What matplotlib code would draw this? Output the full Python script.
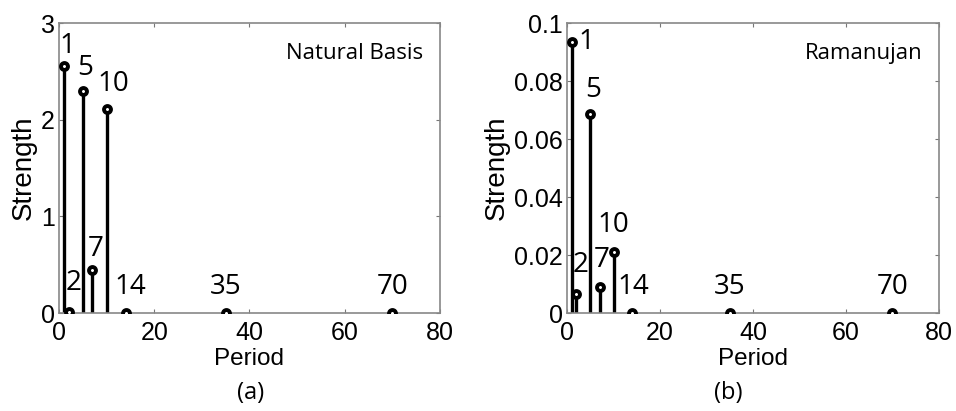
import numpy as np
import matplotlib.pyplot as plt

periods = [1, 2, 5, 7, 10, 14, 35, 70]
natural_strength = [2.56, 0.01, 2.30, 0.44, 2.11, 0.0, 0.0, 0.0]
ramanujan_strength = [0.0935, 0.0065, 0.0685, 0.009, 0.021, 0.0, 0.0, 0.0]

tick_font = 'Liberation Sans'
label_font = 'Open Sans'

fig = plt.figure(figsize=(9.56, 4.11), dpi=100)
ax_a = fig.add_axes([0.0617, 0.2384, 0.3985, 0.7056])
ax_b = fig.add_axes([0.5931, 0.2384, 0.3891, 0.7056])


def dessiner(ax, y, ymax, yticks, ytick_labels, titre, sous_titre, x_sous, decalages):
    for x, v in zip(periods, y):
        ax.plot([x, x], [0, v], color='black', lw=2.4, zorder=2)
    ax.plot(periods, y, 'o', ms=5, mfc='white', mec='black', mew=2.8, zorder=3)
    # décalages en pixels : (dx, dy, alignement vertical)
    for x, v, (dx, dy, va) in zip(periods, y, decalages):
        ax.annotate(str(x), (x, v), xytext=(dx, dy), textcoords='offset pixels',
                    fontsize=20, family=label_font, ha='center', va=va)
    ax.set_xlim(0, 80)
    ax.set_ylim(0, ymax)
    ax.set_xticks([0, 20, 40, 60, 80])
    ax.set_yticks(yticks)
    ax.set_yticklabels(ytick_labels)
    ax.tick_params(direction='in', length=3, width=0.8, color='#777777',
                   top=True, right=True, labelsize=18)
    ax.tick_params(axis='x', pad=6)
    ax.tick_params(axis='y', pad=3)
    for lab in ax.get_xticklabels() + ax.get_yticklabels():
        lab.set_family(tick_font)
    for s in ax.spines.values():
        s.set_color('#888888')
        s.set_linewidth(1.2)
    ax.set_xlabel('Period', fontsize=17.5, family=tick_font, labelpad=2)
    ax.set_ylabel('Strength', fontsize=20, family=tick_font, labelpad=3)
    ax.text(0.955, 0.93, titre, transform=ax.transAxes, ha='right', va='top',
            fontsize=16, family=label_font)
    fig.text(x_sous, 0.044, sous_titre, ha='center', va='center',
             fontsize=17, family=label_font)


dessiner(ax_a, natural_strength, 3, [0, 1, 2, 3], ['0', '1', '2', '3'],
         'Natural Basis', '(a)', 0.262,
         [(4, 6, 'bottom'), (5, 15, 'bottom'), (2, 9, 'bottom'), (3, 7, 'bottom'),
          (7, 11, 'bottom'), (5, 12, 'bottom'), (0, 12, 'bottom'), (0, 12, 'bottom')])
dessiner(ax_b, ramanujan_strength, 0.1, [0, 0.02, 0.04, 0.06, 0.08, 0.1],
         ['0', '0.02', '0.04', '0.06', '0.08', '0.1'],
         'Ramanujan', '(b)', 0.7615,
         [(15, 0, 'center'), (4, 15, 'bottom'), (3, 10, 'bottom'), (2, 13, 'bottom'),
          (0, 13, 'bottom'), (1, 12, 'bottom'), (0, 12, 'bottom'), (0, 12, 'bottom')])

fig.savefig('out.png', dpi=100)
